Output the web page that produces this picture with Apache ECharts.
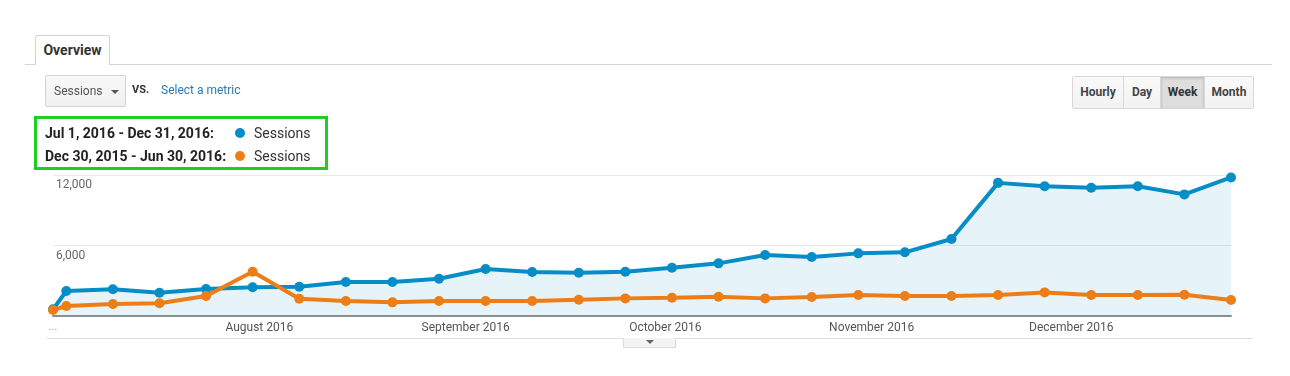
<!DOCTYPE html>
<html>
<head>
<meta charset="utf-8">
<script src="https://cdn.jsdelivr.net/npm/echarts@6/dist/echarts.min.js"></script>
<style>
  html, body { margin: 0; padding: 0; background: #fff; }
  body { width: 1290px; height: 376px; position: relative; overflow: hidden; font-family: Roboto, "Liberation Sans", Arial, sans-serif; }
  #chart { position: absolute; left: 0; top: 0; width: 1290px; height: 376px; }
  .abs { position: absolute; z-index: 5; }
  .tabline { left: 25px; top: 64px; width: 1247px; height: 1px; background: #d4d4d4; }
  .tab { left: 35px; top: 35px; width: 73px; height: 29px; border: 1px solid #d4d4d4; border-bottom: none; border-radius: 3px 3px 0 0; background: #fff; font-weight: bold; font-size: 14px; color: #333; text-align: center; line-height: 29px; z-index: 6; }
  .dd { left: 45px; top: 75px; width: 79px; height: 30px; border: 1px solid #d3d3d3; border-radius: 2px; background: linear-gradient(#f9f9f9, #f0f0f0); font-size: 12px; color: #555; line-height: 30px; }
  .dd span { position: absolute; left: 8px; }
  .dd i { position: absolute; left: 65px; top: 14px; width: 0; height: 0; border-left: 4px solid transparent; border-right: 4px solid transparent; border-top: 4px solid #555; }
  .vs { left: 132px; top: 83px; font-size: 11px; font-weight: bold; color: #333; }
  .sel { left: 161px; top: 83px; font-size: 12px; color: #2a78b2; }
  .btns { left: 1072px; top: 76px; height: 31px; display: flex; border: 1px solid #d8d8d8; border-radius: 2px; overflow: hidden; }
  .btns div { height: 31px; line-height: 31px; font-size: 12px; font-weight: bold; color: #444; text-align: center; background: linear-gradient(#fafafa, #f2f2f2); border-left: 1px solid #d8d8d8; box-sizing: border-box; }
  .btns div:first-child { border-left: none; }
  .btns div.on { background: #dedede; box-shadow: inset 0 1px 3px rgba(0,0,0,0.2); color: #333; }
  .legend { left: 34px; top: 116px; width: 288px; height: 48px; border: 3px solid #22cc22; }
  .lrow { position: absolute; left: 8px; height: 18px; line-height: 18px; font-size: 14px; white-space: nowrap; }
  .lrow b { position: absolute; left: 0; color: #222; }
  .lrow .dot { position: absolute; left: 190px; top: 4px; width: 10px; height: 10px; border-radius: 50%; }
  .lrow .nm { position: absolute; left: 209px; color: #333; }
  .bline { left: 47px; top: 338px; width: 1205px; height: 1px; background: #dcdcdc; }
  .btab { left: 623px; top: 338px; width: 51px; height: 9px; border: 1px solid #dcdcdc; border-top: none; background: #f4f4f4; }
  .btab i { position: absolute; left: 22px; top: 2px; width: 0; height: 0; border-left: 4px solid transparent; border-right: 4px solid transparent; border-top: 4px solid #666; }
</style>
</head>
<body>
<div id="chart"></div>

<div class="abs tabline"></div>
<div class="abs tab">Overview</div>
<div class="abs dd"><span>Sessions</span><i></i></div>
<div class="abs vs">VS.</div>
<div class="abs sel">Select a metric</div>
<div class="abs btns">
  <div style="width:50px">Hourly</div>
  <div style="width:37px">Day</div>
  <div class="on" style="width:44px">Week</div>
  <div style="width:49px">Month</div>
</div>
<div class="abs legend">
  <div class="lrow" style="top:5px"><b id="l1"></b><span class="dot" style="background:#058dc7"></span><span class="nm" id="n1"></span></div>
  <div class="lrow" style="top:28px"><b id="l2"></b><span class="dot" style="background:#ed7e17"></span><span class="nm" id="n2"></span></div>
</div>
<div class="abs bline"></div>
<div class="abs btab"><i></i></div>

<script>
// ---- data ----
const dates = ['2016-07-01','2016-07-03','2016-07-10','2016-07-17','2016-07-24','2016-07-31',
  '2016-08-07','2016-08-14','2016-08-21','2016-08-28','2016-09-04','2016-09-11','2016-09-18',
  '2016-09-25','2016-10-02','2016-10-09','2016-10-16','2016-10-23','2016-10-30','2016-11-06',
  '2016-11-13','2016-11-20','2016-11-27','2016-12-04','2016-12-11','2016-12-18','2016-12-25'];
const currentSessions = [570, 2130, 2270, 1980, 2300, 2440, 2490, 2890, 2890, 3170, 4000, 3740, 3680,
  3770, 4110, 4480, 5190, 5020, 5330, 5420, 6550, 11330, 11050, 10910, 11050, 10350, 11790];
const previousSessions = [510, 850, 1020, 1080, 1700, 3770, 1470, 1275, 1160, 1275, 1275, 1275, 1390,
  1500, 1560, 1640, 1500, 1615, 1785, 1700, 1700, 1785, 2010, 1785, 1785, 1810, 1360];
const seriesNames = ['Sessions', 'Sessions'];
const rangeLabels = ['Jul 1, 2016 - Dec 31, 2016:', 'Dec 30, 2015 - Jun 30, 2016:'];
const monthTicks = ['2016-07-01','2016-08-01','2016-09-01','2016-10-01','2016-11-01','2016-12-01'];
const monthNames = ['January','February','March','April','May','June','July','August','September','October','November','December'];
const yTicks = [0, 6000, 12000];

document.getElementById('l1').textContent = rangeLabels[0];
document.getElementById('l2').textContent = rangeLabels[1];
document.getElementById('n1').textContent = seriesNames[0];
document.getElementById('n2').textContent = seriesNames[1];

function toTs(s) { const p = s.split('-').map(Number); return new Date(p[0], p[1] - 1, p[2]).getTime(); }

const chart = echarts.init(document.getElementById('chart'), null, { renderer: 'canvas' });
chart.setOption({
  animation: false,
  backgroundColor: '#fff',
  grid: { left: 53, right: 59, top: 175, bottom: 60 },
  xAxis: {
    type: 'value',
    min: toTs(dates[0]),
    max: toTs(dates[dates.length - 1]),
    axisLine: { show: true, lineStyle: { color: '#8f8f8f', width: 2 } },
    axisTick: { show: false },
    splitLine: { show: false },
    axisLabel: {
      customValues: monthTicks.map(toTs),
      margin: 6,
      fontFamily: 'Roboto, Arial, sans-serif',
      fontSize: 12,
      color: '#555',
      showMinLabel: true,
      showMaxLabel: true,
      hideOverlap: false,
      formatter: function (v) {
        const d = new Date(v);
        if (d.getTime() === toTs(monthTicks[0])) return '{dots|...}';
        return monthNames[d.getMonth()] + ' ' + d.getFullYear();
      },
      rich: { dots: { color: '#999', fontSize: 11 } }
    }
  },
  yAxis: {
    type: 'value',
    min: yTicks[0],
    max: yTicks[yTicks.length - 1],
    interval: yTicks[1] - yTicks[0],
    axisLine: { show: false },
    axisTick: { show: false },
    splitLine: { lineStyle: { color: '#e9e9e9', width: 1 } },
    axisLabel: {
      inside: true,
      margin: 3,
      verticalAlign: 'top',
      padding: [4, 0, 0, 0],
      fontFamily: 'Roboto, Arial, sans-serif',
      fontSize: 12,
      color: '#666',
      showMinLabel: false,
      formatter: function (v) { return v === 0 ? '' : v.toLocaleString('en-US'); }
    }
  },
  series: [
    {
      name: seriesNames[0],
      type: 'line',
      data: dates.map((d, i) => [toTs(d), currentSessions[i]]),
      symbol: 'circle',
      symbolSize: 10,
      clip: false,
      lineStyle: { color: '#058dc7', width: 4 },
      itemStyle: { color: '#058dc7' },
      areaStyle: { color: 'rgba(5,141,199,0.1)', opacity: 1 },
      z: 2
    },
    {
      name: seriesNames[1],
      type: 'line',
      data: dates.map((d, i) => [toTs(d), previousSessions[i]]),
      symbol: 'circle',
      symbolSize: 10,
      clip: false,
      lineStyle: { color: '#ed7e17', width: 4 },
      itemStyle: { color: '#ed7e17' },
      z: 3
    }
  ]
});
</script>
</body>
</html>
